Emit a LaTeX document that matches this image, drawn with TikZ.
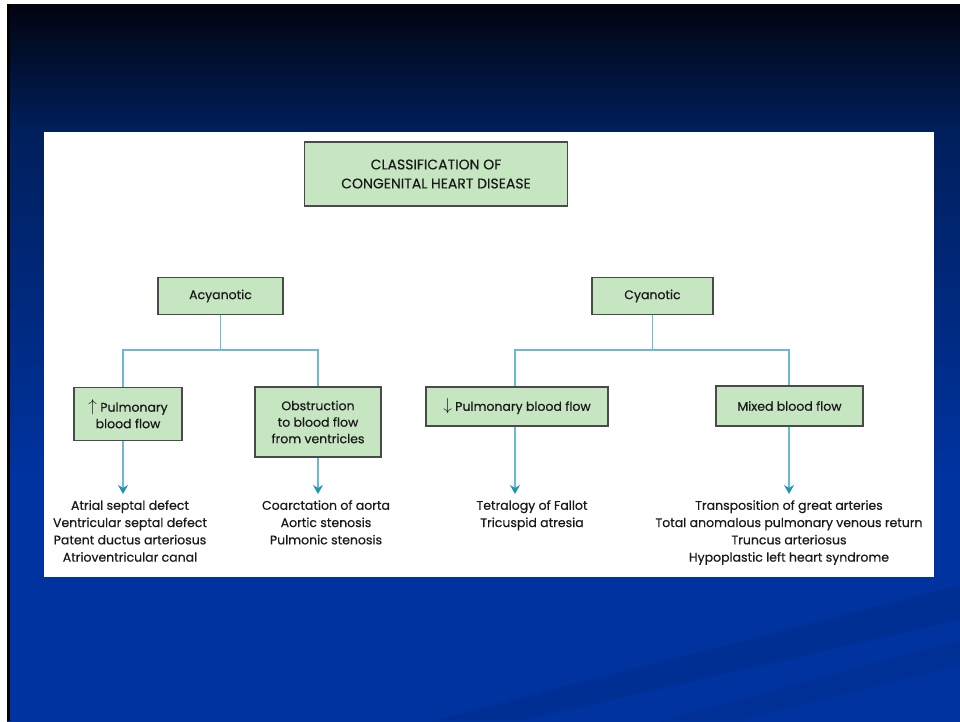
\documentclass[tikz,border=0pt]{standalone}
\usepackage{fontspec}
\setmainfont{Poppins}[FakeBold=0.5]
\usepackage{tikz}
\usetikzlibrary{arrows.meta,positioning}
\definecolor{slidetop}{HTML}{02040F}
\definecolor{slidemid}{HTML}{001F5C}
\definecolor{slideblue}{HTML}{0033A0}
\definecolor{boxfill}{HTML}{C6E6C1}
\definecolor{boxedge}{HTML}{4A4A4A}
\definecolor{linec}{HTML}{6ABBD0}
\definecolor{tipc}{HTML}{1C98B5}
\definecolor{txt}{HTML}{1A1A1A}
\pgfdeclareverticalshading{slidebg}{100bp}{color(0bp)=(slideblue); color(25bp)=(slideblue); color(42bp)=(slideblue); color(66bp)=(slidemid); color(75bp)=(slidetop); color(100bp)=(slidetop)}
\newcommand{\flowup}{{\fontsize{16}{16}\selectfont$\uparrow$}}
\newcommand{\flowdown}{{\fontsize{16}{16}\selectfont$\downarrow$}}
\tikzset{
  ln/.style={linec,line width=1.4pt},
  ar/.style={ln,-{Stealth[length=9pt,width=10pt,inset=3pt,color=tipc]},shorten >=6pt},
  box/.style={draw=boxedge,line width=1.1pt,fill=boxfill,align=center,inner sep=0pt,text=txt,font=\fontsize{12.5}{16.5}\selectfont},
  lst/.style={align=center,inner sep=0pt,text=txt,font=\fontsize{12.5}{17.3}\selectfont,anchor=north}
}

\begin{document}
\begin{tikzpicture}[x=1pt,y=-1pt]
\useasboundingbox (0,0) rectangle (960,721);
\fill[white] (0,0) rectangle (960,721);
\shade[shading=slidebg] (7,4) rectangle (960,721);
\fill[black] (7,4) rectangle (10,721);
\fill[black,opacity=0.07] (430,721) -- (960,585) -- (960,620) -- (520,721) -- cycle;
\fill[black,opacity=0.06] (660,721) -- (960,640) -- (960,665) -- (740,721) -- cycle;
\fill[white] (44,132) rectangle (934,577);

\node[box,minimum width=263pt,minimum height=64pt,font=\fontsize{14}{19}\selectfont] (cls) at (436,174) {CLASSIFICATION OF\\CONGENITAL HEART DISEASE};
\node[box,minimum width=125pt,minimum height=37pt] (acy) at (220.5,296) {Acyanotic};
\node[box,minimum width=121pt,minimum height=37pt] (cya) at (652.5,296) {Cyanotic};
\node[box,minimum width=108pt,minimum height=53pt] (pinc) at (128,414) {\flowup\ Pulmonary\\blood flow};
\node[box,minimum width=126pt,minimum height=70pt] (obst) at (318,422) {Obstruction\\to blood flow\\from ventricles};
\node[box,minimum width=182pt,minimum height=39pt] (pdec) at (517,406.5) {\flowdown\ Pulmonary blood flow};
\node[box,minimum width=147pt,minimum height=40pt] (mix) at (789.5,406) {Mixed blood flow};

\node[lst] (l1) at (130,500) {Atrial septal defect\\Ventricular septal defect\\Patent ductus arteriosus\\Atrioventricular canal};
\node[lst] (l2) at (326,500) {Coarctation of aorta\\Aortic stenosis\\Pulmonic stenosis};
\node[lst] (l3) at (532,500) {Tetralogy of Fallot\\Tricuspid atresia};
\node[lst] (l4) at (789,500) {Transposition of great arteries\\Total anomalous pulmonary venous return\\Truncus arteriosus\\Hypoplastic left heart syndrome};

\coordinate (ja) at (220.5,350); \coordinate (jl1) at (123,350); \coordinate (jl2) at (318,350);
\coordinate (jc) at (652.5,350); \coordinate (jr1) at (515,350); \coordinate (jr2) at (789,350);
\draw[ln] (acy.south) -- (ja); \draw[ln] (jl1 |- pinc.north) -- (jl1) -- (jl2) -- (jl2 |- obst.north);
\draw[ln] (cya.south) -- (jc); \draw[ln] (jr1 |- pdec.north) -- (jr1) -- (jr2) -- (jr2 |- mix.north);
\draw[ar] (jl1 |- pinc.south) -- (jl1 |- l1.north); \draw[ar] (jl2 |- obst.south) -- (jl2 |- l2.north);
\draw[ar] (jr1 |- pdec.south) -- (jr1 |- l3.north); \draw[ar] (jr2 |- mix.south) -- (jr2 |- l4.north);
\end{tikzpicture}
\end{document}
